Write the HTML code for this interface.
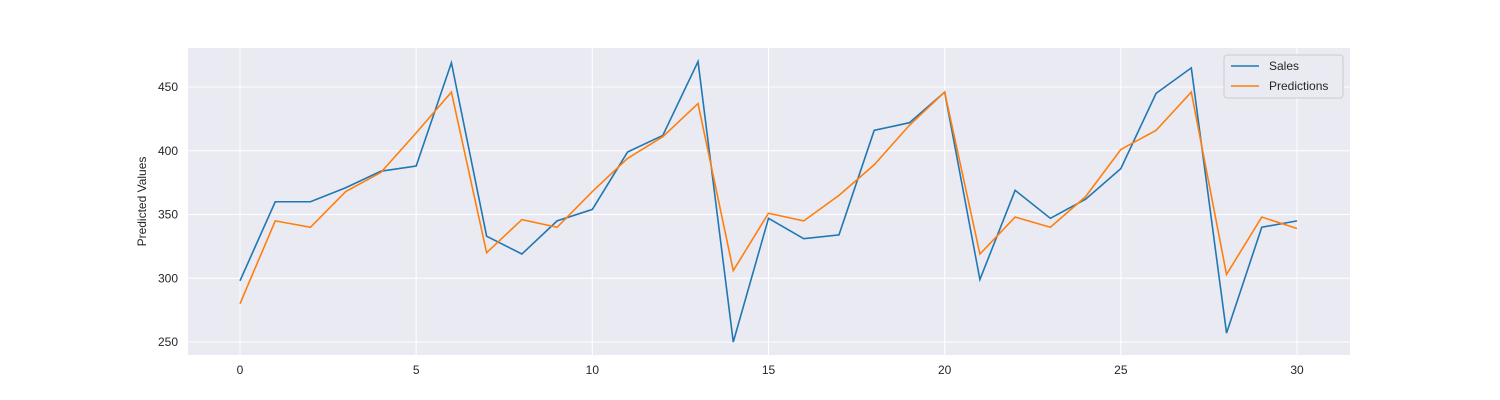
<!DOCTYPE html>
<html><head><meta charset="utf-8"><style>
body{margin:0;background:#fff;}
svg{display:block;font-family:"Liberation Sans",Arial,sans-serif;}
</style></head><body>
<svg id="chart" width="1500" height="400"></svg>
<script>
const xTicks=[0,5,10,15,20,25,30];
const yTicks=[250,300,350,400,450];
const sales=[298,360,360,371,384,388,469,333,319,345,354,399,412,470,250,347,331,334,416,422,446,299,369,347,362,386,445,465,257,340,345];
const predictions=[280,345,340,368,383,414,446,320,346,340,368,394,411,437,306,351,345,365,389,420,446,319,348,340,364,401,416,446,303,348,339];
const NS='http://www.w3.org/2000/svg';
const svg=document.getElementById('chart');
const L=188,R=1350,T=48,B=355;
const sx=v=>240+v*(1297-240)/30;
const sy=v=>87+(450-v)*1.275;
function el(t,a,p){const e=document.createElementNS(NS,t);for(const k in a)e.setAttribute(k,a[k]);(p||svg).appendChild(e);return e;}
const bg=el('rect',{x:L,y:T,width:R-L,height:B-T,fill:'#eaeaf2'});


xTicks.forEach(v=>{
  const g=el('line',{x1:sx(v),x2:sx(v),y1:T,y2:B,stroke:'#fff','stroke-width':1});
  
  
  const t=el('text',{x:sx(v),y:B+19,'text-anchor':'middle','font-size':12,fill:'#262626'});
  t.textContent=v;
  
  
});
yTicks.forEach(v=>{
  const g=el('line',{x1:L,x2:R,y1:sy(v),y2:sy(v),stroke:'#fff','stroke-width':1});
  
  
  const t=el('text',{x:L-10,y:sy(v)+4,'text-anchor':'end','font-size':12,fill:'#262626'});
  t.textContent=v;
  
  
});
const yt=el('text',{x:146,y:(T+B)/2,'text-anchor':'middle','font-size':12,fill:'#262626',transform:`rotate(-90 146 ${(T+B)/2})`});
yt.textContent='Predicted Values';


function line(data,color,name){
  const p=el('polyline',{points:data.map((v,i)=>sx(i)+','+sy(v)).join(' '),fill:'none',stroke:color,'stroke-width':1.6});
  
  
}
line(sales,'#1f77b4','sales-line');
line(predictions,'#ff7f0e','predictions-line');
const lg=el('g',{});


el('rect',{x:1224,y:55,width:119,height:43,rx:3,fill:'#eaeaf2',stroke:'#ccc'},lg);
[['Sales','#1f77b4'],['Predictions','#ff7f0e']].forEach((d,i)=>{
  const y=66+i*20;
  el('line',{x1:1231,x2:1259,y1:y,y2:y,stroke:d[1],'stroke-width':1.6},lg);
  const t=el('text',{x:1269,y:y+4,'font-size':12,fill:'#262626'},lg);
  t.textContent=d[0];
  
  
});
</script>
</body></html>
